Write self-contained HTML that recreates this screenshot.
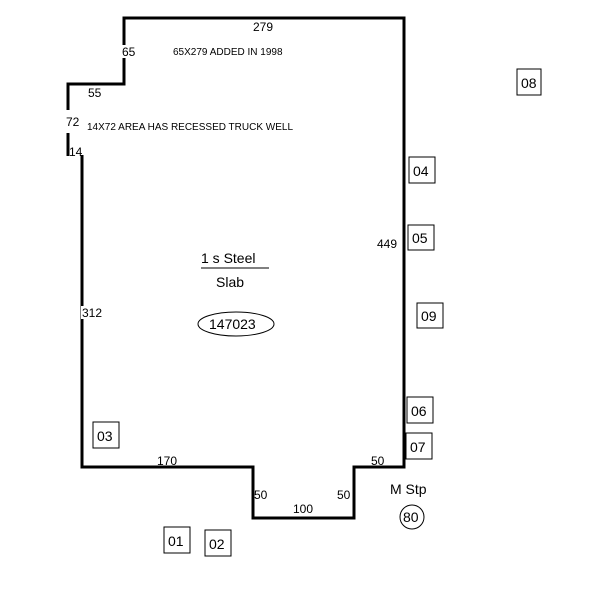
<!DOCTYPE html>
<html><head><style>body{margin:0;background:#fff}svg{display:block}text{font-family:"Liberation Sans",Arial,sans-serif;fill:#000}</style></head>
<body>
<svg width="600" height="600" viewBox="0 0 600 600" xmlns="http://www.w3.org/2000/svg">
<g stroke="#000" stroke-width="3" fill="none">
<polyline points="68,110 68,84 124,84 124,18 404,18 404,467 354,467 354,518 253,518 253,467 82,467 82,155"/>
<line x1="68" y1="133" x2="68" y2="156"/>
</g>
<rect x="121" y="45" width="16" height="13" fill="#fff"/>
<rect x="81" y="306" width="22" height="13" fill="#fff"/>
<g stroke="#000" stroke-width="1" fill="none">
<rect x="409" y="157" width="26" height="26"/>
<rect x="408" y="225" width="26" height="25"/>
<rect x="417" y="303" width="26" height="25"/>
<rect x="407" y="397" width="26" height="26"/>
<rect x="406" y="433" width="26" height="26"/>
<rect x="93" y="422" width="26" height="26"/>
<rect x="164" y="527" width="26" height="26"/>
<rect x="205" y="530" width="26" height="26"/>
<rect x="517" y="69" width="24" height="26"/>
<circle cx="412" cy="517" r="12"/>
<ellipse cx="236" cy="324" rx="38" ry="12"/>
<line x1="201" y1="268" x2="269" y2="268"/>
</g>
<g font-size="12">
<text x="253" y="31">279</text>
<text x="122" y="56">65</text>
<text x="88" y="97">55</text>
<text x="66" y="126">72</text>
<text x="69" y="156">14</text>
<text x="82" y="317">312</text>
<text x="377" y="248">449</text>
<text x="157" y="465">170</text>
<text x="371" y="465">50</text>
<text x="254" y="499">50</text>
<text x="337" y="499">50</text>
<text x="293" y="513">100</text>
</g>
<g font-size="10">
<text x="173" y="55">65X279 ADDED IN 1998</text>
<text x="87" y="130">14X72 AREA HAS RECESSED TRUCK WELL</text>
</g>
<g font-size="14">
<text x="201" y="263">1 s Steel</text>
<text x="216" y="287">Slab</text>
<text x="209" y="329">147023</text>
<text x="390" y="494">M Stp</text>
<text x="403" y="522">80</text>
<text x="413" y="176">04</text>
<text x="412" y="243">05</text>
<text x="421" y="321">09</text>
<text x="411" y="416">06</text>
<text x="410" y="452">07</text>
<text x="97" y="441">03</text>
<text x="168" y="546">01</text>
<text x="209" y="549">02</text>
<text x="521" y="88">08</text>
</g>
</svg>
</body></html>
